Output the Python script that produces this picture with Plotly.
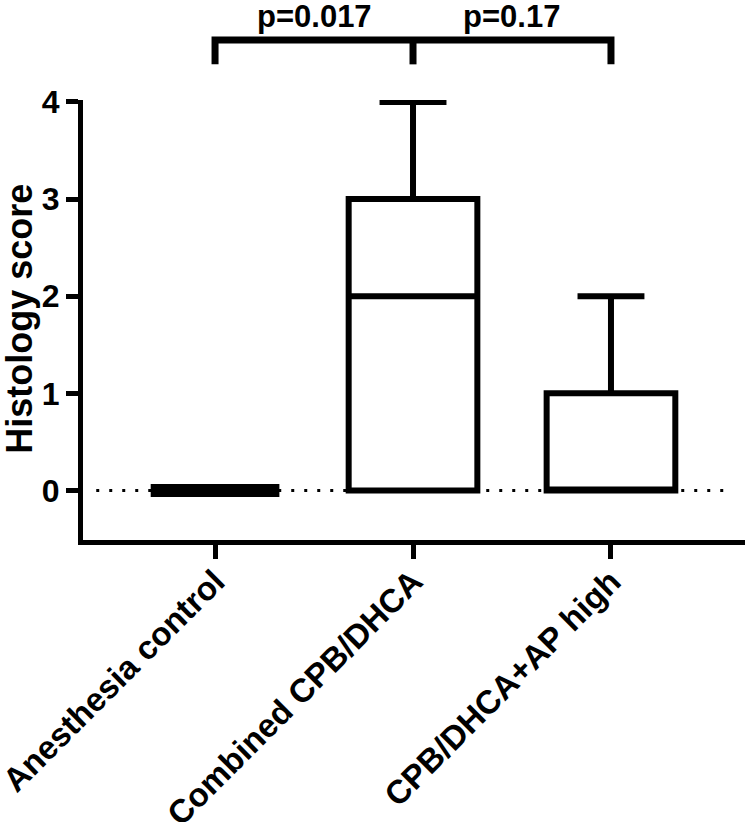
import plotly.graph_objects as go

# ---- data ----
categories = ["Anesthesia control", "Combined CPB/DHCA", "CPB/DHCA+AP high"]
q1_vals = [0, 0, 0]
median_vals = [0, 2, 0]
q3_vals = [0, 3, 1]
min_vals = [0, 0, 0]
max_vals = [0, 4, 2]
y_ticks = [0, 1, 2, 3, 4]
y_title = "Histology score"
comparisons = [(0, 1, "p=0.017"), (1, 2, "p=0.17")]

FONT = "Liberation Sans, Arial, sans-serif"
positions = list(range(len(categories)))

fig = go.Figure()
for i, cat in enumerate(categories):
    flat = q3_vals[i] == q1_vals[i] and max_vals[i] == min_vals[i]
    fig.add_trace(go.Box(
        x=[positions[i]],
        q1=[q1_vals[i]], median=[median_vals[i]], q3=[q3_vals[i]],
        lowerfence=[min_vals[i]], upperfence=[max_vals[i]],
        name=cat, width=0.65, whiskerwidth=0.52,
        line=dict(color="black", width=13 if flat else 6),
        fillcolor="rgba(255,255,255,0)", boxpoints=False,
        showlegend=False, hoverinfo="skip",
    ))

# dotted zero reference line
fig.add_shape(type="line", xref="paper", yref="y", x0=0.02, x1=0.98, y0=0, y1=0,
              line=dict(color="black", width=3, dash="3px,10px"), layer="below")

# significance brackets
y_top = 1.1364
y_leg = 1.081
bracket_x = sorted({c[0] for c in comparisons} | {c[1] for c in comparisons})
fig.add_shape(type="path", xref="x", yref="paper",
              path=f"M {bracket_x[0]},{y_leg} L {bracket_x[0]},{y_top} L {bracket_x[-1]},{y_top} L {bracket_x[-1]},{y_leg}",
              line=dict(color="black", width=7))
for bx in bracket_x[1:-1]:
    fig.add_shape(type="line", xref="x", yref="paper", x0=bx, x1=bx, y0=y_top, y1=y_leg,
                  line=dict(color="black", width=7))
for a, b, label in comparisons:
    fig.add_annotation(x=(a + b) / 2, y=y_top, xref="x", yref="paper",
                       text=label, showarrow=False, yanchor="bottom", yshift=4,
                       font=dict(family=FONT, size=31, color="black", weight="bold"))

# y-axis title
fig.add_annotation(x=-0.096, y=0.504, xref="paper", yref="paper", text=y_title,
                   textangle=-90, showarrow=False, xanchor="center", yanchor="middle",
                   font=dict(family=FONT, size=36, color="black", weight="bold"))

fig.update_layout(
    width=745, height=822,
    margin=dict(l=83, r=0, t=100, b=282),
    paper_bgcolor="white", plot_bgcolor="white",
    font=dict(family=FONT, color="black"),
)
fig.update_xaxes(
    range=[-0.667, 2.677], tickvals=positions, ticktext=categories,
    tickangle=-45, showline=True, linecolor="black", linewidth=5,
    ticks="outside", ticklen=14, tickwidth=5, tickcolor="black",
    tickfont=dict(family=FONT, size=33, color="black", weight="bold"),
    showgrid=False, zeroline=False, automargin=False, ticklabeloverflow="allow",
    ticklabelstandoff=-10,
)
fig.update_yaxes(
    range=[-0.51, 4.02], tickvals=y_ticks,
    showline=True, linecolor="black", linewidth=5,
    ticks="outside", ticklen=12, tickwidth=5, tickcolor="black",
    tickfont=dict(family=FONT, size=32, color="black", weight="bold"),
    showgrid=False, zeroline=False, automargin=False,
)

# remove the page's default body margin so the figure fills the window exactly
fig.write_html("out.html", config={"displayModeBar": False},
               post_script="document.body.style.margin='0px';document.body.style.overflow='hidden';")
